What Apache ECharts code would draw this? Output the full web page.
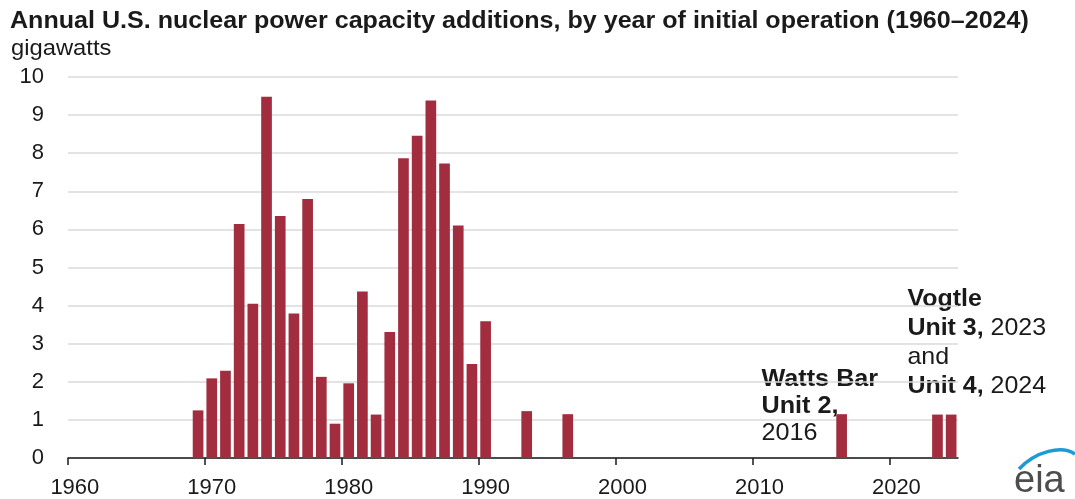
<!DOCTYPE html>
<html>
<head>
<meta charset="utf-8">
<script src="https://cdn.jsdelivr.net/npm/echarts@6/dist/echarts.min.js"></script>
<style>
  html, body { margin: 0; padding: 0; background: #ffffff; }
  #chart { width: 1075px; height: 499px; }
</style>
</head>
<body>
<div id="chart"></div>
<script>
// Years of initial operation shown on the category axis
const years = [];
for (let y = 1960; y <= 2024; y++) years.push(String(y));

// Year boundaries used for the decade tick marks (one more than the bars)
const yearEdges = years.concat(['2025']);

// Capacity added in each year (gigawatts); years without additions are 0
const capacityByYear = {
  1969: 1.25, 1970: 2.09, 1971: 2.29, 1972: 6.14, 1973: 4.05, 1974: 9.48,
  1975: 6.35, 1976: 3.79, 1977: 6.80, 1978: 2.13, 1979: 0.90, 1980: 1.96,
  1981: 4.37, 1982: 1.14, 1983: 3.31, 1984: 7.87, 1985: 8.46, 1986: 9.38,
  1987: 7.73, 1988: 6.10, 1989: 2.47, 1990: 3.59, 1993: 1.23, 1996: 1.15,
  2016: 1.15, 2023: 1.14, 2024: 1.14
};
const capacity = years.map(y => capacityByYear[y] || 0);

// Value-axis ticks
const yTicks = [0, 1, 2, 3, 4, 5, 6, 7, 8, 9, 10];

const titleText = 'Annual U.S. nuclear power capacity additions, by year of initial operation (1960\u20132024)';
const unitText = 'gigawatts';

const FONT = '"Liberation Sans", Arial, sans-serif';
const TEXT = '#1a1a1a';
const BAR = '#a12d3f';

const chart = echarts.init(document.getElementById('chart'), null, { renderer: 'canvas' });

const option = {
  animation: false,
  backgroundColor: '#ffffff',
  textStyle: { fontFamily: FONT },
  grid: { left: 68, right: 117, top: 77, bottom: 40, containLabel: false },
  xAxis: [{
    // bars and decade labels (labels sit in the middle of their year)
    type: 'category',
    data: years,
    boundaryGap: true,
    position: 'bottom',
    axisLine: { show: false },
    axisTick: { show: false },
    axisLabel: { interval: 9, color: TEXT, fontSize: 22, fontFamily: FONT, margin: 19 },
    splitLine: { show: false }
  }, {
    // baseline and decade ticks on the year boundaries
    type: 'category',
    data: yearEdges,
    boundaryGap: false,
    position: 'bottom',
    axisLine: { show: true, onZero: false, lineStyle: { color: '#1a1a1a', width: 1.5 } },
    axisTick: { show: true, interval: 9, length: 7, lineStyle: { color: '#1a1a1a', width: 1.5 } },
    axisLabel: { show: false },
    splitLine: { show: false }
  }],
  yAxis: {
    type: 'value',
    min: yTicks[0],
    max: yTicks[yTicks.length - 1],
    interval: 1,
    axisLine: { show: false },
    axisTick: { show: false },
    axisLabel: { color: TEXT, fontSize: 22, fontFamily: FONT, margin: 24 },
    splitLine: { show: true, lineStyle: { color: '#dadada', width: 1.5 } }
  },
  series: [{
    type: 'bar',
    xAxisIndex: 0,
    data: capacity,
    barCategoryGap: '22%',
    itemStyle: { color: BAR },
    z: 3
  }],
  graphic: []
};

chart.setOption(option);

// Text blocks: title, unit, notes beside the newest reactors, and the agency mark
function place() {
  const wattsX = chart.convertToPixel({ xAxisIndex: 0 }, '2010');
  const vogtleX = chart.convertToPixel({ xAxisIndex: 0 }, '2020');
  const wattsY = chart.convertToPixel({ yAxisIndex: 0 }, 2.42);
  const vogtleY = chart.convertToPixel({ yAxisIndex: 0 }, 4.55);
  chart.setOption({
    graphic: [
      { type: 'text', x: 10, y: 9, scaleX: 1.045,
        style: { text: titleText, font: 'bold 24px ' + FONT, fill: TEXT } },
      { type: 'text', x: 11, y: 38, scaleX: 1.08,
        style: { text: unitText, font: '22px ' + FONT, fill: TEXT } },
      { type: 'text', x: wattsX + 2, y: wattsY, scaleX: 1.05,
        style: {
          text: '{b|Watts Bar}\n{b|Unit 2,}\n{r|2016}',
          rich: {
            b: { font: 'bold 24px ' + FONT, fill: TEXT, lineHeight: 27 },
            r: { font: '24px ' + FONT, fill: TEXT, lineHeight: 27 }
          }
        } },
      { type: 'text', x: vogtleX + 11, y: vogtleY, scaleX: 1.04,
        style: {
          text: '{b|Vogtle}\n{b|Unit 3, }{r|2023}\n{r|and}\n{b|Unit 4, }{r|2024}',
          rich: {
            b: { font: 'bold 24px ' + FONT, fill: TEXT, lineHeight: 29 },
            r: { font: '24px ' + FONT, fill: TEXT, lineHeight: 29 }
          }
        } },
      { type: 'bezierCurve', shape: { x1: 1019, y1: 469, x2: 1075, y2: 454, cpx1: 1036, cpy1: 451, cpx2: 1062, cpy2: 445 },
        style: { stroke: '#1b9ad6', lineWidth: 3.5, fill: null } },
      { type: 'text', x: 1014, y: 463,
        style: { text: 'eia', font: '38px ' + FONT, fill: '#4d4d4d' } }
    ]
  });
}
place();
</script>
</body>
</html>
